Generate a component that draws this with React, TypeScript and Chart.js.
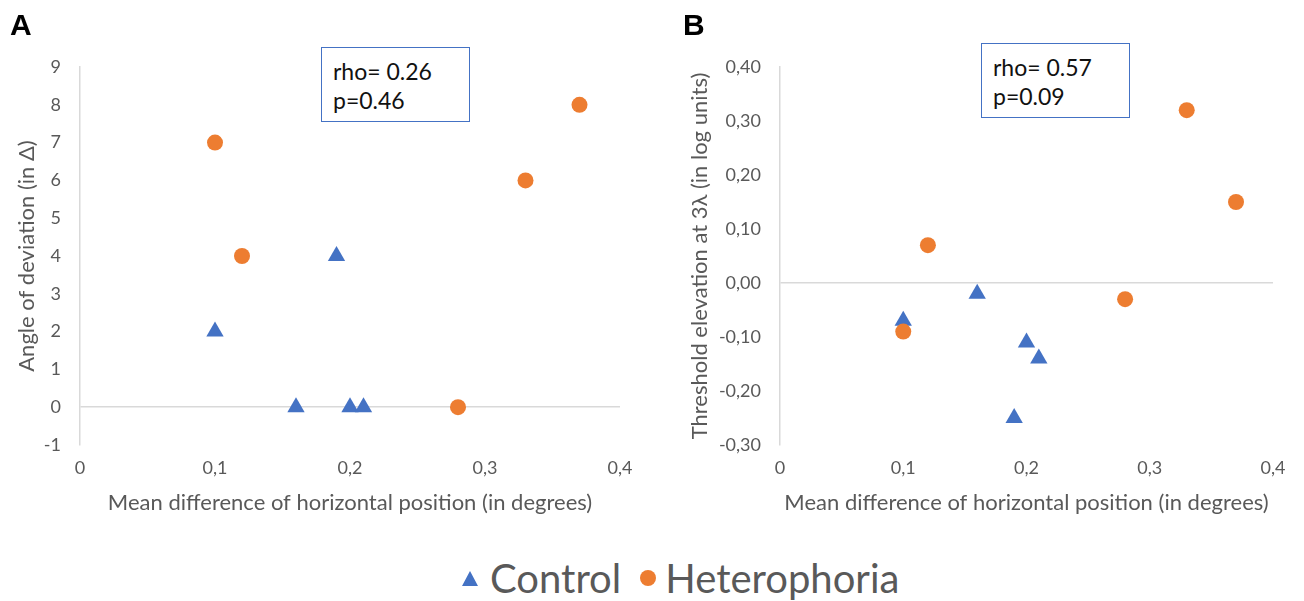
import React, { useEffect, useRef } from "react";
import { Chart, registerables } from "chart.js";

Chart.register(...registerables);

// ---------- Data ----------
const seriesNames = ["Control", "Heterophoria"];

// Panel A: angle of deviation vs mean horizontal difference
const aControlX = [0.1, 0.19, 0.16, 0.2, 0.21];
const aControlY = [2, 4, 0, 0, 0];
const aHeteroX = [0.1, 0.12, 0.28, 0.33, 0.37];
const aHeteroY = [7, 4, 0, 6, 8];

// Panel B: threshold elevation vs mean horizontal difference
const bControlX = [0.1, 0.16, 0.2, 0.21, 0.19];
const bControlY = [-0.07, -0.02, -0.11, -0.14, -0.25];
const bHeteroX = [0.1, 0.12, 0.28, 0.33, 0.37];
const bHeteroY = [-0.09, 0.07, -0.03, 0.32, 0.15];

const xTickLabels = ["0", "0,1", "0,2", "0,3", "0,4"];
const aYTickLabels = ["-1", "0", "1", "2", "3", "4", "5", "6", "7", "8", "9"];
const bYTickLabels = ["-0,30", "-0,20", "-0,10", "0,00", "0,10", "0,20", "0,30", "0,40"];

const xTitle = "Mean difference of horizontal position (in degrees)";
const aYTitle = "Angle of deviation (in \u0394)";
const bYTitle = "Threshold elevation at 3\u03bb (in log units)";
const aStats = ["rho= 0.26", "p=0.46"];
const bStats = ["rho= 0.57", "p=0.09"];

const BLUE = "#4472C4";
const ORANGE = "#ED7D31";
const GREY_TEXT = "#595959";
const GRID = "#D9D9D9";
const FONT = "Lato, 'Open Sans', sans-serif";

const zip = (xs: number[], ys: number[]) => xs.map((x, i) => ({ x, y: ys[i] }));

function makeConfig(opts: {
  controlX: number[]; controlY: number[]; heteroX: number[]; heteroY: number[];
  yMin: number; yMax: number; yStep: number; yLabels: string[]; yTitle: string;
  yAxisWidth: number; yTitlePad: number; rightPad: number;
}): any {
  return {
    type: "scatter",
    data: {
      datasets: [
        {
          label: seriesNames[1],
          data: zip(opts.heteroX, opts.heteroY),
          pointStyle: "circle",
          pointRadius: 8,
          pointHoverRadius: 8,
          backgroundColor: ORANGE,
          borderColor: ORANGE,
          borderWidth: 0,
          order: 0,
        },
        {
          label: seriesNames[0],
          data: zip(opts.controlX, opts.controlY),
          pointStyle: "triangle",
          pointRadius: 10,
          pointHoverRadius: 10,
          backgroundColor: BLUE,
          borderColor: BLUE,
          borderWidth: 0,
          order: 1,
        },
      ],
    },
    options: {
      animation: false,
      responsive: false,
      maintainAspectRatio: false,
      events: [],
      layout: { padding: { left: 0, right: opts.rightPad, top: 67, bottom: 24 } },
      plugins: { legend: { display: false }, tooltip: { enabled: false } },
      scales: {
        x: {
          type: "linear",
          min: 0,
          max: 0.4,
          border: { display: false },
          grid: { display: false, drawTicks: false },
          ticks: {
            stepSize: 0.1,
            padding: 12,
            color: GREY_TEXT,
            font: { family: FONT, size: 18 },
            maxRotation: 0,
            callback: (_v: any, i: number) => xTickLabels[i],
          },
          title: {
            display: true,
            text: xTitle,
            color: GREY_TEXT,
            font: { family: FONT, size: 22 },
            padding: { top: 0, bottom: 0 },
          },
          afterFit: (s: any) => { s.height = 71; },
        },
        y: {
          type: "linear",
          min: opts.yMin,
          max: opts.yMax,
          border: { display: true, color: GRID, width: 1.5 },
          grid: {
            drawTicks: false,
            lineWidth: 1.5,
            color: (ctx: any) => (ctx.tick && Math.abs(ctx.tick.value) < 1e-9 ? GRID : "rgba(0,0,0,0)"),
          },
          ticks: {
            stepSize: opts.yStep,
            padding: 19,
            color: GREY_TEXT,
            font: { family: FONT, size: 18 },
            callback: (_v: any, i: number) => opts.yLabels[i],
          },
          title: {
            display: true,
            text: opts.yTitle,
            color: GREY_TEXT,
            font: { family: FONT, size: 22 },
            padding: { top: opts.yTitlePad, bottom: 0 },
          },
          afterFit: (s: any) => { s.width = opts.yAxisWidth; },
        },
      },
    },
  };
}

function ChartCanvas({ config, width, height, left }: { config: any; width: number; height: number; left: number }) {
  const ref = useRef<HTMLCanvasElement | null>(null);
  useEffect(() => {
    if (!ref.current) return;
    const chart = new Chart(ref.current, config);
    return () => chart.destroy();
  }, []);
  return (
    <canvas
      ref={ref}
      width={width}
      height={height}
      style={{ position: "absolute", left, top: 0, width, height }}
    />
  );
}

function StatBox({ lines, left, top }: { lines: string[]; left: number; top: number }) {
  return (
    <div
      style={{
        position: "absolute",
        left,
        top,
        width: 149,
        height: 75,
        border: `1px solid ${BLUE}`,
        boxSizing: "border-box",
        background: "#fff",
        fontFamily: FONT,
        fontSize: 23,
        lineHeight: "29px",
        color: "#111",
        padding: "9px 0 0 11px",
      }}
    >
      {lines.map((l, i) => (
        <div key={i}>{l}</div>
      ))}
    </div>
  );
}

export default function App() {
  const configA = makeConfig({
    controlX: aControlX, controlY: aControlY, heteroX: aHeteroX, heteroY: aHeteroY,
    yMin: -1, yMax: 9, yStep: 1, yLabels: aYTickLabels, yTitle: aYTitle,
    yAxisWidth: 80, yTitlePad: 14, rightPad: 30,
  });
  const configB = makeConfig({
    controlX: bControlX, controlY: bControlY, heteroX: bHeteroX, heteroY: bHeteroY,
    yMin: -0.3, yMax: 0.4, yStep: 0.1, yLabels: bYTickLabels, yTitle: bYTitle,
    yAxisWidth: 130, yTitlePad: 37, rightPad: 31,
  });

  const panelLabel: React.CSSProperties = {
    position: "absolute",
    fontFamily: "'Liberation Sans', Arial, sans-serif",
    fontWeight: "bold",
    fontSize: 30,
    lineHeight: "30px",
    color: "#000",
  };

  return (
    <div style={{ position: "absolute", left: 0, top: 0, width: 1304, height: 601, background: "#fff", overflow: "hidden" }}>
      <ChartCanvas config={configA} width={650} height={540} left={0} />
      <ChartCanvas config={configB} width={654} height={540} left={650} />
      <div style={{ ...panelLabel, left: 10, top: 10 }}>A</div>
      <div style={{ ...panelLabel, left: 683, top: 10 }}>B</div>
      <StatBox lines={aStats} left={321} top={47} />
      <StatBox lines={bStats} left={981} top={43} />
      <div
        style={{
          position: "absolute",
          left: 462,
          top: 556,
          height: 44,
          display: "flex",
          alignItems: "center",
          fontFamily: FONT,
          fontSize: 40,
          color: GREY_TEXT,
          whiteSpace: "nowrap",
        }}
      >
        <span style={{ display: "inline-block", width: 0, height: 0, borderLeft: "8px solid transparent", borderRight: "8px solid transparent", borderBottom: `15px solid ${BLUE}`, marginRight: 12 }} />
        <span style={{ marginRight: 19 }}>{seriesNames[0]}</span>
        <span style={{ display: "inline-block", width: 16, height: 16, borderRadius: 8, background: ORANGE, marginRight: 9 }} />
        <span>{seriesNames[1]}</span>
      </div>
    </div>
  );
}
